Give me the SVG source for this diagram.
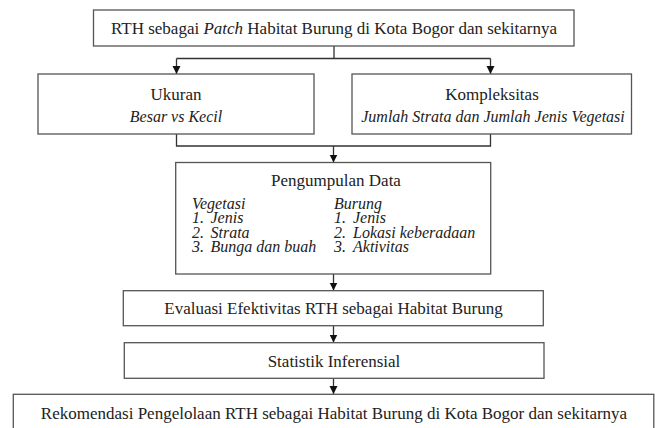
<svg xmlns="http://www.w3.org/2000/svg" width="655" height="428" viewBox="0 0 655 428">
<defs>
<marker id="ah" viewBox="0 0 8 10" refX="8" refY="5" markerWidth="8" markerHeight="10" markerUnits="userSpaceOnUse" orient="auto">
<path d="M0,1 L8,5 L0,9 Z" fill="#111"/>
</marker>
<style>
.box{fill:#fff;stroke:#555;stroke-width:1.3}
.t{font-family:"Liberation Serif","Times New Roman",serif;font-size:17px;fill:#222}
.s{font-size:16px}
.c{text-anchor:middle}
.i{font-style:italic}
.ln{fill:none;stroke:#333;stroke-width:1.3}
</style>
</defs>
<rect width="655" height="428" fill="#fff"/>
<g id="connectors">
<path class="ln" d="M334,46 V58.5 M176.5,58.5 H490.5"/>
<path class="ln" d="M176.5,58.5 V74" marker-end="url(#ah)"/>
<path class="ln" d="M490.5,58.5 V74" marker-end="url(#ah)"/>
<path class="ln" d="M176.5,134 V146 H490.5 V134"/>
<path class="ln" d="M333.5,146 V162.5" marker-end="url(#ah)"/>
<path class="ln" d="M333.5,274 V290.5" marker-end="url(#ah)"/>
<path class="ln" d="M333.5,325.7 V342.5" marker-end="url(#ah)"/>
<path class="ln" d="M333.5,378.3 V394" marker-end="url(#ah)"/>
</g>
<g id="node-rth">
<rect class="box" x="93.5" y="10" width="480.5" height="36"/>
<text class="t c" x="334" y="33.5">RTH sebagai <tspan class="i">Patch</tspan> Habitat Burung di Kota Bogor dan sekitarnya</text>
</g>
<g id="node-ukuran">
<rect class="box" x="38" y="74" width="276" height="60"/>
<text class="t c" x="176" y="100">Ukuran</text>
<text class="t s c i" x="176" y="122">Besar vs Kecil</text>
</g>
<g id="node-kompleksitas">
<rect class="box" x="352" y="74" width="279.5" height="60"/>
<text class="t c" x="492" y="100">Kompleksitas</text>
<text class="t s c i" x="493" y="122">Jumlah Strata dan Jumlah Jenis Vegetasi</text>
</g>
<g id="node-pengumpulan">
<rect class="box" x="175.7" y="162.5" width="315" height="111.5"/>
<text class="t c" x="336" y="186">Pengumpulan Data</text>
<text class="t s i"><tspan x="192" y="208.5">Vegetasi</tspan><tspan x="192" y="223">1.</tspan><tspan x="210.5" y="223">Jenis</tspan><tspan x="192" y="237.5">2.</tspan><tspan x="210.5" y="237.5">Strata</tspan><tspan x="192" y="252">3.</tspan><tspan x="210.5" y="252">Bunga dan buah</tspan></text>
<text class="t s i"><tspan x="334" y="208.5">Burung</tspan><tspan x="334" y="223">1.</tspan><tspan x="353" y="223">Jenis</tspan><tspan x="334" y="237.5">2.</tspan><tspan x="353" y="237.5">Lokasi keberadaan</tspan><tspan x="334" y="252">3.</tspan><tspan x="353" y="252">Aktivitas</tspan></text>
</g>
<g id="node-evaluasi">
<rect class="box" x="123.3" y="290.7" width="420" height="35"/>
<text class="t c" x="333.5" y="314">Evaluasi Efektivitas RTH sebagai Habitat Burung</text>
</g>
<g id="node-statistik">
<rect class="box" x="124.3" y="342.7" width="419.7" height="35.6"/>
<text class="t c" x="334" y="366.5">Statistik Inferensial</text>
</g>
<g id="node-rekomendasi">
<rect class="box" x="13.3" y="394.3" width="640.5" height="40"/>
<text class="t c" x="334" y="418.5">Rekomendasi Pengelolaan RTH sebagai Habitat Burung di Kota Bogor dan sekitarnya</text>
</g>
</svg>
